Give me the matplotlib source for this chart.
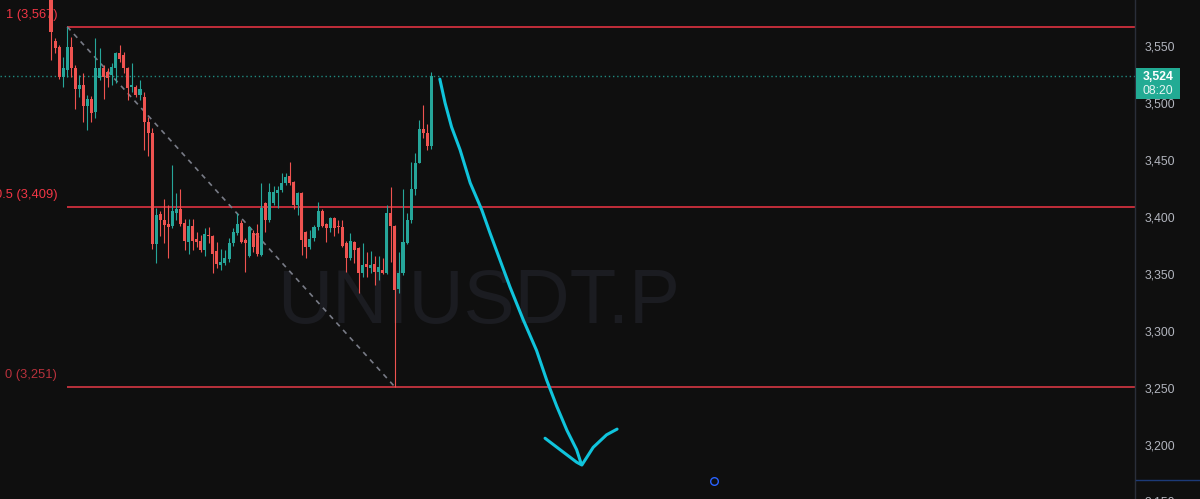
import matplotlib
matplotlib.use("Agg")
import matplotlib.pyplot as plt
from matplotlib.ticker import FuncFormatter, FixedLocator
from matplotlib.patches import Rectangle
from matplotlib.lines import Line2D
from matplotlib.transforms import blended_transform_factory
import numpy as np

# ---------------- data ----------------
opens = [3600, 3554, 3549, 3523, 3529, 3549, 3531, 3512, 3516, 3497,
         3504, 3492, 3522, 3531, 3527, 3525, 3531, 3544, 3542, 3531,
         3514, 3514, 3507, 3505, 3483, 3474, 3376, 3403, 3397, 3394,
         3392, 3404, 3407, 3395, 3378, 3392, 3381, 3379, 3371, 3384,
         3383, 3370, 3358, 3360, 3363, 3377, 3386, 3395, 3380, 3366,
         3386, 3386, 3367, 3412, 3397, 3412, 3421, 3424, 3430, 3436,
         3431, 3411, 3421, 3387, 3374, 3382, 3391, 3405, 3394, 3390,
         3399, 3392, 3391, 3377, 3364, 3378, 3373, 3351, 3359, 3355,
         3359, 3352, 3354, 3351, 3404, 3392, 3337, 3351, 3377, 3397,
         3425, 3447, 3477, 3474, 3462]
highs = [3605, 3557, 3551, 3540, 3567, 3558, 3533, 3525, 3526, 3507,
         3506, 3557, 3548, 3533, 3531, 3535, 3545, 3551, 3545, 3532,
         3535, 3516, 3520, 3510, 3488, 3478, 3408, 3405, 3416, 3411,
         3446, 3421, 3425, 3398, 3398, 3398, 3387, 3384, 3390, 3391,
         3384, 3378, 3372, 3371, 3382, 3390, 3404, 3397, 3382, 3392,
         3389, 3394, 3430, 3413, 3430, 3427, 3427, 3439, 3439, 3448,
         3432, 3422, 3422, 3388, 3389, 3393, 3413, 3407, 3395, 3400,
         3400, 3397, 3397, 3379, 3386, 3379, 3374, 3377, 3369, 3370,
         3366, 3366, 3364, 3411, 3426, 3393, 3369, 3425, 3404, 3448,
         3456, 3485, 3498, 3482, 3527]
lows = [3538, 3544, 3521, 3514, 3523, 3523, 3495, 3505, 3483, 3476,
        3483, 3487, 3520, 3504, 3514, 3516, 3518, 3536, 3526, 3503,
        3510, 3505, 3503, 3459, 3454, 3372, 3360, 3383, 3377, 3364,
        3390, 3397, 3392, 3371, 3368, 3371, 3374, 3369, 3366, 3377,
        3351, 3355, 3354, 3358, 3361, 3375, 3384, 3377, 3352, 3365,
        3369, 3366, 3366, 3387, 3396, 3411, 3408, 3422, 3428, 3428,
        3407, 3402, 3367, 3364, 3372, 3379, 3389, 3391, 3378, 3387,
        3383, 3386, 3374, 3352, 3362, 3360, 3333, 3347, 3347, 3351,
        3340, 3345, 3350, 3350, 3361, 3251, 3333, 3349, 3376, 3395,
        3419, 3447, 3469, 3459, 3460]
closes = [3562, 3548, 3523, 3531, 3549, 3531, 3512, 3516, 3497, 3504,
          3491, 3531, 3531, 3523, 3522, 3532, 3544, 3539, 3531, 3513,
          3516, 3507, 3512, 3483, 3474, 3376, 3402, 3397, 3393, 3391,
          3405, 3407, 3394, 3379, 3392, 3379, 3378, 3371, 3385, 3383,
          3368, 3359, 3361, 3364, 3377, 3387, 3394, 3378, 3377, 3391,
          3374, 3368, 3408, 3397, 3422, 3422, 3424, 3430, 3435, 3430,
          3411, 3421, 3380, 3374, 3381, 3391, 3405, 3392, 3390, 3399,
          3390, 3391, 3375, 3364, 3379, 3371, 3351, 3358, 3356, 3358,
          3352, 3356, 3351, 3404, 3392, 3336, 3351, 3378, 3397, 3425,
          3447, 3477, 3474, 3462, 3524]

fib_levels = [3567, 3409, 3251]
fib_labels = ["1 (3,567)", "0.5 (3,409)", "0 (3,251)"]
fib_colors = ["#f23645", "#f23645", "#b8313c"]
fib_start = 4          # bar index of the swing high
trend_start = (4, 3567)
trend_end = (85, 3251)
last_price = 3524
last_price_text = "3,524"
countdown_text = "08:20"
watermark = "UNIUSDT.P"
yticks = [3200, 3250, 3300, 3350, 3400, 3450, 3500, 3550]
cut_tick = 3150

# hand-drawn arrow (bar index, price)
arrow_x = [96.1, 97.4, 99.0, 101.1, 103.6, 106.5, 108.5, 111.0, 113.4,
           116.7, 120.0, 122.5, 125.0, 127.5, 129.9, 131.0]
arrow_y = [3521, 3500, 3479, 3459, 3430, 3406, 3386, 3362, 3339,
           3310, 3283, 3257, 3234, 3213, 3196, 3184]
head_x = [122.1, 125.8, 129.9, 131.2, 134.0, 137.3, 139.9]
head_y = [3206, 3196, 3185, 3182.5, 3198, 3209, 3214]
marker_pt = (163.9, 3168.5)

# ---------------- figure ----------------
BG = "#0f0f0f"
UP = "#26a69a"
DOWN = "#ef5350"
W, H = 1200, 499
fig = plt.figure(figsize=(W / 100, H / 100), dpi=100, facecolor=BG)
ax = fig.add_axes([0, 0, 1135 / W, 1])
ax.set_facecolor(BG)

xmin, xmax = -12.6, 267.9
ymin, ymax = 3152.7, 3590.4
ax.set_xlim(xmin, xmax)
ax.set_ylim(ymin, ymax)

# watermark
ax.text(479 / 1135, 1 - 323 / H, watermark, transform=ax.transAxes,
        ha="center", va="baseline", fontsize=55, color="#1b1c21",
        family="Liberation Sans", zorder=0)

idx = np.arange(len(opens))
o = np.array(opens, float)
h = np.array(highs, float)
l = np.array(lows, float)
c = np.array(closes, float)
cols = [UP if cc >= oo else DOWN for oo, cc in zip(o, c)]

ax.vlines(idx, l, h, colors=cols, linewidth=0.8, zorder=3)
bottoms = np.minimum(o, c)
heights = np.maximum(np.abs(c - o), 0.8)
ax.bar(idx, heights, bottom=bottoms, width=0.75, color=cols,
       edgecolor=cols, linewidth=0, zorder=4)

# fib levels
for lev, lab, col in zip(fib_levels, fib_labels, fib_colors):
    lw = 1.1 if col != "#b8313c" else 1.4
    ax.hlines(lev, fib_start, xmax, colors=col, linewidth=lw, zorder=2)
    ax.annotate(lab, xy=(fib_start, lev), xytext=(-10, 12),
                textcoords="offset pixels", ha="right", va="center",
                fontsize=9.3, color=col, family="Liberation Sans",
                annotation_clip=False)

# trend line (dashed)
ax.plot([trend_start[0], trend_end[0]], [trend_start[1], trend_end[1]],
        color="#787b86", linewidth=1.2, linestyle=(0, (3, 3)), zorder=2)

# last price dotted line
ax.axhline(last_price, color="#1f8a80", linewidth=1.0,
           linestyle=(0, (1, 2)), zorder=1)

# hand-drawn arrow
ax.plot(arrow_x, arrow_y, color="#10c4dc", linewidth=2.2,
        solid_capstyle="round", solid_joinstyle="round", zorder=5)
ax.plot(head_x, head_y, color="#10c4dc", linewidth=2.2,
        solid_capstyle="round", solid_joinstyle="round", zorder=5)

# small circle marker
ax.plot([marker_pt[0]], [marker_pt[1]], marker="o", ms=5.5, mfc="none",
        mec="#2962ff", mew=1.0, zorder=6)

# axes styling
for s in ["top", "left", "bottom"]:
    ax.spines[s].set_visible(False)
ax.spines["right"].set_color("#2a2e39")
ax.spines["right"].set_linewidth(1.0)
ax.set_xticks([])
ax.yaxis.tick_right()
ax.yaxis.set_major_locator(FixedLocator(yticks))
ax.yaxis.set_major_formatter(FuncFormatter(lambda v, p: f"{v:,.0f}"))
ax.tick_params(axis="y", length=0, pad=7, labelsize=8.8, labelcolor="#b2b5be")
for t in ax.get_yticklabels():
    t.set_family("Liberation Sans")

# partially visible lowest tick label (cut by the bottom edge, as in the source)
trans = blended_transform_factory(ax.transAxes, ax.transData)
ax.text(1 + 10 / 1135, cut_tick, f"{cut_tick:,.0f}", transform=trans,
        ha="left", va="center", fontsize=8.8, color="#b2b5be",
        family="Liberation Sans", clip_on=False)

# price label box on the axis
fig.patches.append(Rectangle((1136 / W, 1 - 99 / H), 44 / W, 31 / H,
                             transform=fig.transFigure, facecolor="#22ab94",
                             edgecolor="none", zorder=10))
fig.text(1158 / W, 1 - 77 / H, last_price_text, ha="center", va="center",
         fontsize=8.8, fontweight="bold", color="white",
         family="Liberation Sans", zorder=11)
fig.text(1158 / W, 1 - 91 / H, countdown_text, ha="center", va="center",
         fontsize=8.8, color="#e6f5f2", family="Liberation Sans", zorder=11)

# crosshair stub on the price axis
fig.lines.append(Line2D([1136 / W, 1], [1 - 480 / H, 1 - 480 / H],
                        transform=fig.transFigure, color="#1c3a78",
                        linewidth=1.0))

fig.savefig("out.png", dpi=100, facecolor=BG)
